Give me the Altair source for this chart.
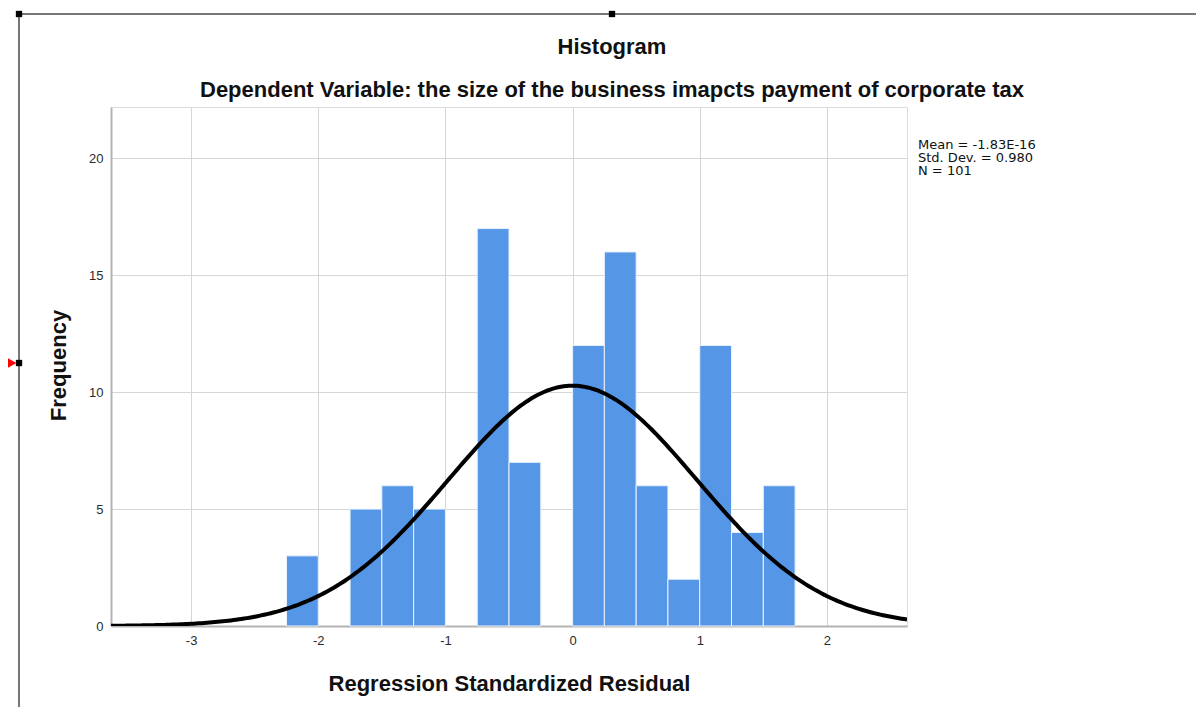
import altair as alt
import numpy as np
import pandas as pd

# ---- data ----
bin_starts = [-2.25, -1.75, -1.5, -1.25, -0.75, -0.5, 0.0, 0.25, 0.5, 0.75, 1.0, 1.25, 1.5]
bin_width = 0.25
counts = [3, 5, 6, 5, 17, 7, 12, 16, 6, 2, 12, 4, 6]

MEAN = -1.83e-16
SD = 0.980
N = 101
stats_lines = ["Mean = -1.83E-16", "Std. Dev. = 0.980", "N = 101"]

x_ticks = [-3, -2, -1, 0, 1, 2]
y_ticks = [0, 5, 10, 15, 20]
x_domain = [-3.63, 2.63]
y_domain = [0, 22.2]

title_text = "Histogram"
subtitle_text = "Dependent Variable: the size of the business imapcts payment of corporate tax"
x_title = "Regression Standardized Residual"
y_title = "Frequency"

bars = pd.DataFrame({
    "start": bin_starts,
    "end": [s + bin_width for s in bin_starts],
    "count": counts,
    "base": [0] * len(counts),
})

# fitted normal curve from the stated Mean / Std. Dev. / N (scaled to bin width)
xs = np.linspace(x_domain[0], x_domain[1], 300)
ys = N * bin_width / (SD * np.sqrt(2 * np.pi)) * np.exp(-0.5 * ((xs - MEAN) / SD) ** 2)
curve = pd.DataFrame({"x": xs, "y": ys})

W, H = 796, 519
FONT = "Liberation Sans"
TITLE_SIZE = 22

xscale = alt.Scale(domain=x_domain, nice=False, zero=False)
yscale = alt.Scale(domain=y_domain, nice=False)

bar_layer = alt.Chart(bars).mark_rect(
    color="#5596E6", stroke="#EAF2FC", strokeWidth=1
).encode(
    x=alt.X("start:Q", scale=xscale, axis=alt.Axis(
        values=x_ticks, title=x_title, grid=True, ticks=False,
        labelExpr="'' + datum.value",
        labelFontSize=13, labelColor="#2a2a2a", labelFont=FONT, labelPadding=8,
        titleFont=FONT, titleFontSize=TITLE_SIZE, titleFontWeight="bold", titleColor="#111111",
        titleX=W / 2, titleY=57, titleBaseline="middle", titleAlign="center",
        domainColor="#b3b3b3", domainWidth=2, gridColor="#d6d6d6", gridWidth=1,
    )),
    x2="end:Q",
    y=alt.Y("count:Q", scale=yscale, axis=alt.Axis(
        values=y_ticks, title=y_title, grid=True, ticks=False,
        labelFontSize=13, labelColor="#2a2a2a", labelFont=FONT, labelPadding=8,
        titleFont=FONT, titleFontSize=TITLE_SIZE, titleFontWeight="bold", titleColor="#111111",
        titleX=-53, titleY=258, titleAngle=-90, titleBaseline="middle", titleAlign="center",
        domainColor="#b3b3b3", domainWidth=2, gridColor="#d6d6d6", gridWidth=1,
    )),
    y2="base:Q",
)

curve_layer = alt.Chart(curve).mark_line(color="black", strokeWidth=4, clip=True).encode(
    x=alt.X("x:Q", scale=xscale),
    y=alt.Y("y:Q", scale=yscale),
)

one = pd.DataFrame({"a": [0]})


def text_at(txt, px, py, size, weight="normal", align="left", font=FONT):
    return alt.Chart(one).mark_text(
        align=align, baseline="middle", font=font, fontSize=size,
        fontWeight=weight, color="#111111"
    ).encode(x=alt.value(px), y=alt.value(py), text=alt.value(txt))


stats_layers = [text_at(t, 807, 38 + 13 * i, 13, font="DejaVu Sans") for i, t in enumerate(stats_lines)]

title_layer = text_at(title_text, 501, -60, TITLE_SIZE, "bold", "center")
subtitle_layer = text_at(subtitle_text, 501, -17, TITLE_SIZE, "bold", "center")

# document frame decorations
frame_top = alt.Chart(one).mark_rule(color="#777777", strokeWidth=2).encode(
    x=alt.value(-92), x2=alt.value(1090), y=alt.value(-93))
frame_left = alt.Chart(one).mark_rule(color="#777777", strokeWidth=2).encode(
    x=alt.value(-92), y=alt.value(-93), y2=alt.value(600))


def square_at(px, py):
    return alt.Chart(one).mark_square(color="black", size=40, opacity=1).encode(
        x=alt.value(px), y=alt.value(py))


squares = [square_at(-92, -93), square_at(501, -93), square_at(-92, 256)]
tri = alt.Chart(one).mark_point(shape="triangle-right", filled=True, color="red", size=100, opacity=1).encode(
    x=alt.value(-99), y=alt.value(256))

chart = alt.layer(
    bar_layer, curve_layer, *stats_layers, title_layer, subtitle_layer,
    frame_top, frame_left, *squares, tri
).properties(
    width=W, height=H,
    autosize=alt.AutoSizeParams(type="none"),
    padding={"left": 103, "top": 99, "right": 289, "bottom": 82},
).configure_view(stroke=None).configure(background="white")

chart.save("out.html", embed_options={"renderer": "svg", "actions": False})
